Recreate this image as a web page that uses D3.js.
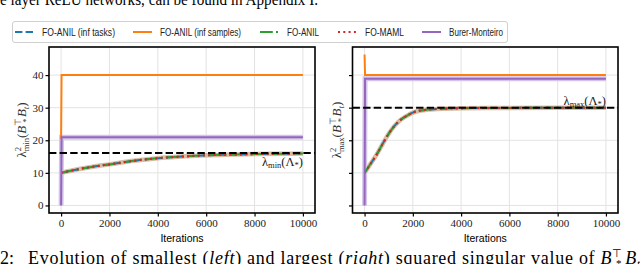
<!DOCTYPE html>
<html>
<head>
<meta charset="utf-8">
<script src="https://cdn.jsdelivr.net/npm/d3@7"></script>
<style>
  body { margin: 0; background: #fff; }
  svg { display: block; }
</style>
</head>
<body>
<div class="plot"></div>
<script>
/* data */
const xTicks = [0, 2000, 4000, 6000, 8000, 10000];
const yTicks = [0, 10, 20, 30, 40];

// smooth curves (FO-ANIL inf tasks / FO-ANIL / FO-MAML overlap)
const itersLeft = [0, 500, 1000, 1500, 2000, 3000, 4000, 5000, 6000, 7000, 8000, 9000, 10000];
const curveLeft = [10, 10.8, 11.5, 12.1, 12.6, 13.7, 14.5, 15.0, 15.4, 15.6, 15.75, 15.85, 15.95];
const itersRight = [0, 250, 500, 750, 1000, 1250, 1500, 1750, 2000, 2500, 3000, 4000, 5000, 6000, 8000, 10000];
const curveRight = [10, 12.8, 15.6, 18.9, 22.0, 24.5, 26.3, 27.5, 28.5, 29.3, 29.6, 29.85, 29.9, 29.93, 29.96, 29.97];

// step-like series
const stepIters = [0, 20, 10000];
const infSamplesLeft = [20.5, 40, 40];
const burerLeft = [0, 20.9, 20.9];
const infSamplesRight = [46.3, 40, 40];
const burerRight = [0, 38.9, 38.9];

// reference eigenvalues
const lambdaMin = 16.1;
const lambdaMax = 30;

const legendLabels = ["FO-ANIL (inf tasks)", "FO-ANIL (inf samples)", "FO-ANIL", "FO-MAML", "Burer-Monteiro"];
const colors = ["#1f77b4", "#ff7f0e", "#2ca02c", "#d62728", "#9467bd"];
const dashes = ["7.4,3.2", null, "12.8,3.2,2,3.2", "2,3.3", null];

const W = 640, H = 264;
const svg = d3.select(".plot").append("svg")
  .attr("width", W).attr("height", H);

const serif = "Liberation Serif, serif";
const sans = "Liberation Sans, sans-serif";

/* paper text around the figure */
svg.append("text")
  .attr("x", 0).attr("y", 4.5)
  .attr("font-family", serif).attr("font-size", 16)
  .attr("textLength", 318).attr("lengthAdjust", "spacingAndGlyphs")
  .text("e layer ReLU networks, can be found in Appendix I.");

svg.append("text")
  .attr("x", 0).attr("y", 263.5)
  .attr("font-family", serif).attr("font-size", 18)
  .text("2:");
const cap = svg.append("text")
  .attr("x", 28).attr("y", 263.5)
  .attr("font-family", serif).attr("font-size", 18)
  .attr("textLength", 612).attr("lengthAdjust", "spacing");
cap.append("tspan").text("Evolution of smallest (");
cap.append("tspan").attr("font-style", "italic").text("left");
cap.append("tspan").text(") and largest (");
cap.append("tspan").attr("font-style", "italic").text("right");
cap.append("tspan").text(") squared singular value of ");
cap.append("tspan").attr("font-style", "italic").text("B");
cap.append("tspan").attr("font-size", 11).attr("dy", -7).text("⊤");
cap.append("tspan").attr("font-size", 11).attr("dx", -7).attr("dy", 10).text("*");
cap.append("tspan").attr("font-style", "italic").attr("dx", 3).attr("dy", -3).text("B");
cap.append("tspan").attr("font-style", "italic").attr("font-size", 11).attr("dy", 3).text("t");

/* shared y scale with matplotlib-like 5% margin */
const allY = [].concat(curveLeft, curveRight, infSamplesLeft, burerLeft, infSamplesRight, burerRight);
const [yLo, yHi] = d3.extent(allY);
const pad = (yHi - yLo) * 0.05;
const yTop = 47, yBottom = 213;
const y = d3.scaleLinear().domain([yLo - pad, yHi + pad]).range([yBottom, yTop]);

const panels = [
  { x0: 49, x1: 315, iters: itersLeft, curve: curveLeft, inf: infSamplesLeft, burer: burerLeft,
    ref: lambdaMin, sub: "min", labels: true, labelX: 26, refAbove: false },
  { x0: 352.5, x1: 618, iters: itersRight, curve: curveRight, inf: infSamplesRight, burer: burerRight,
    ref: lambdaMax, sub: "max", labels: false, labelX: 341, refAbove: true }
];

panels.forEach(p => {
  const x = d3.scaleLinear().domain([-500, 10500]).range([p.x0, p.x1]);
  const g = svg.append("g");

  /* grid */
  g.selectAll(".gx").data(xTicks).join("line")
    .attr("x1", d => x(d)).attr("x2", d => x(d))
    .attr("y1", yTop).attr("y2", yBottom)
    .attr("stroke", "#e3e3e3").attr("stroke-width", 1);
  g.selectAll(".gy").data(yTicks).join("line")
    .attr("x1", p.x0).attr("x2", p.x1)
    .attr("y1", d => y(d)).attr("y2", d => y(d))
    .attr("stroke", "#e3e3e3").attr("stroke-width", 1);

  const clipId = "clip" + p.sub;
  svg.append("clipPath").attr("id", clipId)
    .append("rect").attr("x", p.x0).attr("y", yTop)
    .attr("width", p.x1 - p.x0).attr("height", yBottom - yTop);
  const plot = g.append("g").attr("clip-path", `url(#${clipId})`);

  const line = d3.line()
    .x(d => x(d[0]))
    .y(d => y(d[1]));
  const smooth = d3.line().curve(d3.curveMonotoneX)
    .x(d => x(d[0]))
    .y(d => y(d[1]));

  const curvePts = p.iters.map((t, i) => [t, p.curve[i]]);
  const stepInf = stepIters.map((t, i) => [t, p.inf[i]]);
  const stepBurer = stepIters.map((t, i) => [t, p.burer[i]]);

  /* shaded spread under the curves */
  plot.append("path").datum(curvePts).attr("d", smooth)
    .attr("fill", "none").attr("stroke", "#cfa98c").attr("stroke-width", 4.5).attr("opacity", 0.8);
  plot.append("path").datum(stepBurer).attr("d", line)
    .attr("fill", "none").attr("stroke", "#d4c5e8").attr("stroke-width", 5);

  /* reference eigenvalue */
  g.append("line")
    .attr("x1", p.x0).attr("x2", p.x1)
    .attr("y1", y(p.ref)).attr("y2", y(p.ref))
    .attr("stroke", "#000").attr("stroke-width", 2).attr("stroke-dasharray", "7.4,3.2");

  // blue dashed, orange, green dash-dot, red dotted, purple
  const series = [curvePts, stepInf, curvePts, curvePts, stepBurer];
  series.forEach((pts, i) => {
    plot.append("path").datum(pts)
      .attr("d", pts === curvePts ? smooth : line)
      .attr("fill", "none")
      .attr("stroke", colors[i])
      .attr("stroke-width", 2)
      .attr("stroke-dasharray", dashes[i]);
  });

  /* lambda label */
  const lt = g.append("text")
    .attr("x", x(10000)).attr("y", p.refAbove ? y(p.ref) - 3 : y(p.ref) + 13)
    .attr("text-anchor", "end")
    .attr("font-family", serif).attr("font-size", 12.5).attr("fill", "#222");
  lt.append("tspan").text("λ");
  lt.append("tspan").attr("font-size", 8.5).attr("dy", 2).text(p.sub);
  lt.append("tspan").attr("dy", -2).text("(Λ");
  lt.append("tspan").attr("font-size", 8.5).attr("dy", 2).text("*");
  lt.append("tspan").attr("dy", -2).text(")");

  /* axes */
  const xAxis = d3.axisBottom(x).tickValues(xTicks).tickFormat(d3.format("d"))
    .tickSize(3.5).tickPadding(3);
  g.append("g").attr("transform", `translate(0,${yBottom})`).call(xAxis)
    .attr("font-family", serif).attr("font-size", 11)
    .call(a => a.select(".domain").remove())
    .call(a => a.selectAll(".tick line").attr("stroke", "#000").attr("stroke-width", 1.2))
    .call(a => a.selectAll(".tick text").attr("fill", "#222"));

  const yAxis = d3.axisLeft(y).tickValues(yTicks).tickSize(3.5).tickPadding(2);
  if (!p.labels) yAxis.tickFormat("");
  g.append("g").attr("transform", `translate(${p.x0},0)`).call(yAxis)
    .attr("font-family", serif).attr("font-size", 11)
    .call(a => a.select(".domain").remove())
    .call(a => a.selectAll(".tick line").attr("stroke", "#000").attr("stroke-width", 1.2))
    .call(a => a.selectAll(".tick text").attr("fill", "#222"));

  /* frame */
  g.append("rect")
    .attr("x", p.x0).attr("y", yTop)
    .attr("width", p.x1 - p.x0).attr("height", yBottom - yTop)
    .attr("fill", "none").attr("stroke", "#000").attr("stroke-width", 1.6);

  /* x title */
  g.append("text")
    .attr("x", (p.x0 + p.x1) / 2).attr("y", 242)
    .attr("text-anchor", "middle")
    .attr("font-family", sans).attr("font-size", 10.5)
    .text("Iterations");

  /* y title */
  const yt = g.append("text")
    .attr("transform", `translate(${p.labelX},${(yTop + yBottom) / 2}) rotate(-90)`)
    .attr("text-anchor", "middle")
    .attr("font-family", serif).attr("font-size", 13).attr("fill", "#333");
  yt.append("tspan").text("λ");
  yt.append("tspan").attr("font-size", 8.5).attr("dy", -5).text("2");
  yt.append("tspan").attr("font-size", 8.5).attr("dx", -4.3).attr("dy", 8).text(p.sub);
  yt.append("tspan").attr("dy", -3).text("(");
  yt.append("tspan").attr("font-style", "italic").text("B");
  yt.append("tspan").attr("font-size", 8.5).attr("dy", -5).text("⊤");
  yt.append("tspan").attr("font-size", 8.5).attr("dx", -5).attr("dy", 8).text("*");
  yt.append("tspan").attr("font-style", "italic").attr("dx", 1.5).attr("dy", -3).text("B");
  yt.append("tspan").attr("font-style", "italic").attr("font-size", 8.5).attr("dy", 3).text("t");
  yt.append("tspan").attr("dy", -3).text(")");
});

/* legend */
const legend = svg.append("g");
legend.append("rect")
  .attr("x", 12.5).attr("y", 21.5).attr("width", 495).attr("height", 21)
  .attr("rx", 2.5).attr("fill", "#fff").attr("stroke", "#d0d0d0").attr("stroke-width", 1);
const legX = [15, 133, 260, 338, 422];
const legW = [73, 81, 32, 39, 54];
legendLabels.forEach((lab, i) => {
  legend.append("line")
    .attr("x1", legX[i]).attr("x2", legX[i] + 19)
    .attr("y1", 32).attr("y2", 32)
    .attr("stroke", colors[i]).attr("stroke-width", 2)
    .attr("stroke-dasharray", dashes[i]);
  legend.append("text")
    .attr("x", legX[i] + 27).attr("y", 35.5)
    .attr("font-family", sans).attr("font-size", 10)
    .attr("textLength", legW[i]).attr("lengthAdjust", "spacingAndGlyphs")
    .attr("fill", "#222")
    .text(lab);
});
</script>
</body>
</html>
